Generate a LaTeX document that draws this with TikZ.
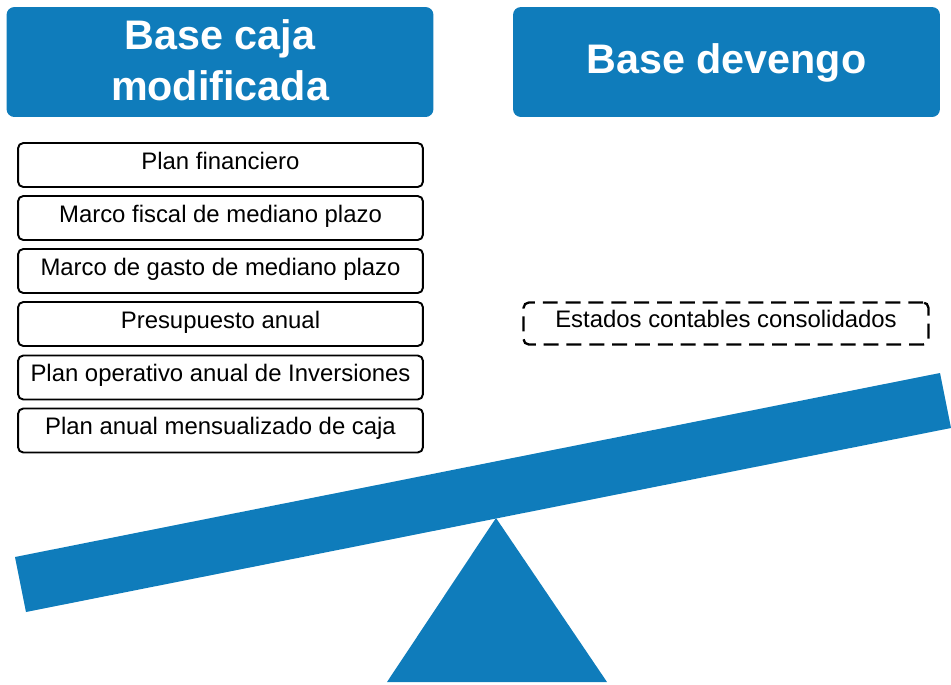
\documentclass[tikz,border=0pt]{standalone}
\usepackage{fontspec}
\setmainfont{Liberation Sans}
\definecolor{scaleblue}{RGB}{15,124,187}
\tikzset{
	header/.style = {
		rectangle,
		rounded corners=4.5pt,
		fill=scaleblue,
		text=white,
		minimum width=8.54cm,
		minimum height=2.2cm,
		align=center,
		font=\fontsize{23.5}{29}\selectfont\bfseries
	},
	item/.style = {
		draw,
		rectangle,
		rounded corners=3pt,
		line width=1.1pt,
		minimum width=8.1cm,
		minimum height=0.88cm,
		inner sep=0pt,
		text height=0.72em,
		text depth=0.25em,
		font=\fontsize{13.6}{16}\selectfont
	},
	pending/.style = {
		item,
		line width=1.3pt,
		dash pattern=on 8.5pt off 4.5pt,
		minimum height=0.84cm
	},
	beam/.style = {
		fill=scaleblue
	}
}

\begin{document}
\begin{tikzpicture}[x=0.02cm, y=-0.02cm]
\useasboundingbox (0,0) rectangle (951,684);

% two bases
\node[header, text depth=0.2em] (caja) at (220,62) {Base caja\\modificada};
\node[header, text depth=0.4em] (devengo) at (726.5,62) {Base devengo};

% instruments on the cash side
\node[item] (plan) at (220.5,165) {Plan financiero};
\node[item] (marcofiscal) at (220.5,218) {Marco fiscal de mediano plazo};
\node[item] (marcogasto) at (220.5,271) {Marco de gasto de mediano plazo};
\node[item] (presupuesto) at (220.5,324) {Presupuesto anual};
\node[item] (poai) at (220.5,377.5) {Plan operativo anual de Inversiones};
\node[item] (pac) at (220.5,430.5) {Plan anual mensualizado de caja};

% accrual side
\node[pending] (estados) at (726,323.5) {Estados contables consolidados};

% the balance
\fill[beam] (15,557) -- (940,373) -- (951,428) -- (26,612) -- cycle;
\fill[beam] (496,518) -- (607,682) -- (387,682) -- cycle;
\end{tikzpicture}
\end{document}
